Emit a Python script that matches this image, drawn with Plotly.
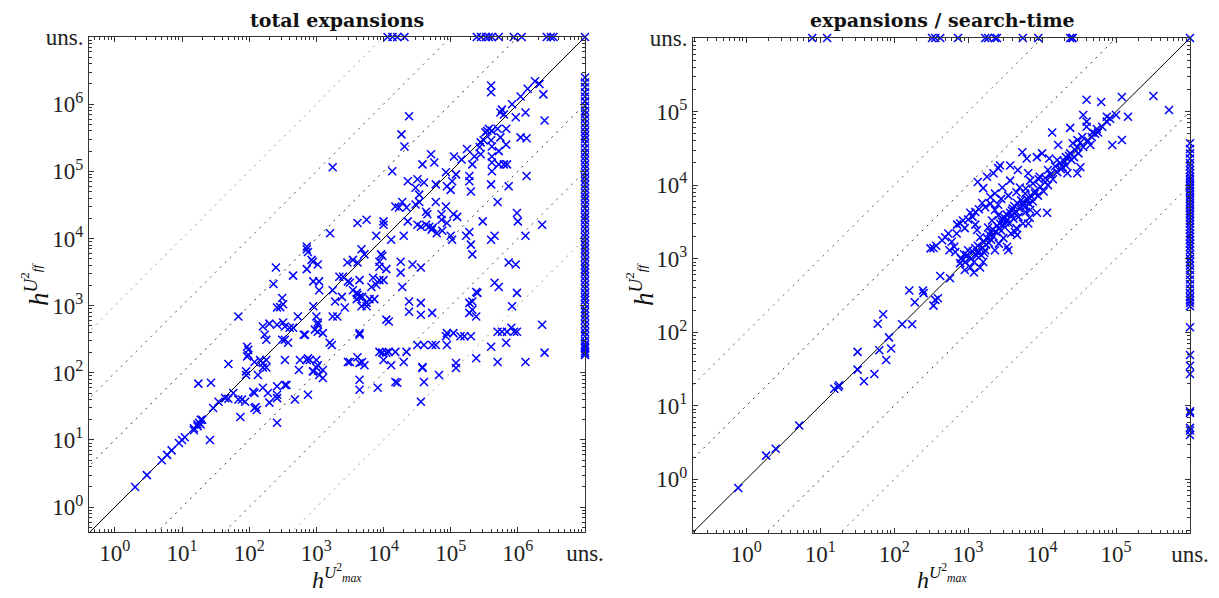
import plotly.graph_objects as go

# ---------------- data ----------------
UNS_LEFT = 1e7     # position of "uns." on the left panel axes
UNS_RIGHT = 1e6    # position of "uns." on the right panel axes

# left panel: total expansions  (x = h^{U2max}, y = h^{U2ff})
left_low_pts = [
    (2, 2), (3, 3), (5, 5), (6, 6), (7, 7), (9, 9), (10, 10), (11, 11), (15, 15),
    (17, 17), (18, 18), (19, 20), (20, 20), (17, 16), (19, 17), (26, 10), (260, 18),
    (15, 14), (17.5, 69), (27, 71), (49, 41), (29, 30), (35, 37), (44, 42), (58, 50),
    (69, 40), (78, 40), (87, 37), (115, 52), (120, 50), (160, 60), (190, 50), (260, 47),
    (260, 63), (340, 66), (360, 66), (480, 40), (750, 47), (120, 30), (130, 28),
    (125, 31), (74, 22), (200, 36), (260, 42),
]
left_mid_pts = [
    (720, 6900), (750, 6300), (850, 4800), (720, 3500), (900, 2300), (250, 3700),
    (450, 2800), (230, 2100), (310, 1300), (260, 940), (290, 950), (320, 1050),
    (900, 980), (69, 690), (1000, 690), (530, 690), (160, 490), (200, 540), (260, 520),
    (320, 560), (340, 490), (400, 470), (450, 470), (650, 370), (170, 370), (180, 310),
    (310, 310), (340, 310), (380, 280), (950, 440), (1050, 520), (93, 245), (97, 220),
    (97, 185), (93, 175), (49, 135), (145, 155), (160, 140), (180, 155), (160, 120),
    (180, 120), (340, 155), (570, 155), (750, 165), (1000, 155), (550, 110), (900, 105),
    (1000, 120), (90, 105), (90, 93), (135, 93), (120, 145),
]
left_c1_pts = [
    (890, 4500), (1050, 4100), (1100, 2300), (1100, 1700), (1050, 560), (1050, 410),
    (1250, 390), (680, 370), (1580, 280), (1700, 260), (720, 155), (800, 155),
    (1050, 130), (1250, 110), (1100, 93), (1250, 84), (890, 105), (2950, 145),
    (3150, 145), (4100, 170), (4400, 140), (4800, 145), (5200, 130), (4400, 79),
    (4400, 56), (8200, 60), (4400, 390), (4400, 370), (8700, 205), (9600, 200),
    (11000, 200), (12000, 205), (15000, 205), (22000, 205), (10000, 155), (13000, 130),
    (20000, 145), (15000, 73), (16000, 71), (38000, 122), (38000, 118), (40000, 73),
    (36000, 37), (32000, 260), (40000, 260), (53000, 260), (60000, 260), (88000, 260),
    (53000, 780), (36000, 730), (24000, 810), (24000, 1150), (36000, 1100), (11000, 620),
    (12000, 580), (19000, 1900), (18000, 3100), (18000, 4500), (27000, 4100),
    (36000, 3700), (67000, 93), (85000, 350), (110000, 390), (88000, 390),
    (140000, 350), (160000, 350), (200000, 350), (120000, 140), (120000, 118),
    (240000, 165), (400000, 245), (500000, 145), (670000, 280), (500000, 410),
    (580000, 410), (690000, 410), (800000, 470), (880000, 410), (970000, 410),
    (1300000, 145), (2300000, 520), (2500000, 200),
]
left_c2_pts = [
    (190000, 1100), (210000, 1150), (190000, 780), (210000, 870), (240000, 690),
    (240000, 1600), (250000, 1550), (450000, 2200), (520000, 1900), (970000, 1550),
    (820000, 980), (730000, 4400), (930000, 4100), (210000, 5800), (200000, 8100),
    (170000, 11000), (190000, 12500), (105000, 9600), (100000, 11000), (75000, 13000),
    (88000, 17000), (110000, 23000), (125000, 21000), (73000, 23000), (73000, 19000),
    (60000, 35000), (85000, 30000), (45000, 23000), (43000, 25000), (32000, 16000),
    (36000, 15000), (43000, 16000), (48000, 15000), (52000, 13500), (54000, 14500),
    (62000, 12000), (20000, 11000), (13000, 9600), (7800, 11000), (10000, 16000),
    (10000, 18000), (5600, 19000), (4100, 17000), (1600, 12000), (720, 7600),
    (15000, 30000), (19000, 35000), (22000, 29000), (23000, 18000), (17000, 29000),
    (30000, 32000), (34000, 35000), (300000, 18000), (500000, 35000), (450000, 11000),
    (400000, 9600), (970000, 24000), (1000000, 18000), (1300000, 11000),
    (2300000, 16000), (9200, 5800), (9600, 5500), (8700, 4500), (8700, 3800),
    (11000, 3500), (8700, 2400), (10000, 2400), (7800, 2050), (6600, 1900),
    (7000, 2600), (6200, 1250), (5600, 1100), (7300, 1250), (2900, 4400),
    (3500, 4800), (4100, 4400), (4700, 6900), (5200, 5800), (2200, 2700),
    (2500, 2700), (2950, 2300), (3150, 2200), (3500, 1700), (4000, 1550),
    (4100, 1450), (4400, 1350), (4000, 1250), (4800, 1350), (4400, 2400),
    (1750, 1700), (2400, 1350), (1900, 1150), (2650, 940), (1750, 690), (2050, 690),
    (4700, 980), (5600, 980),
]
left_high_pts = [
    (1750, 115000), (24000, 660000), (18500, 355000), (20500, 235000), (13500, 100000),
    (23000, 71000), (32000, 76000), (30000, 57000), (34000, 45000), (40000, 68000),
    (51000, 180000), (57000, 135000), (38000, 127000), (60000, 64000), (85000, 97000),
    (88000, 60000), (100000, 53000), (105000, 71000), (120000, 90000),
    (112000, 166000), (145000, 150000), (175000, 215000), (210000, 127000),
    (190000, 85000), (190000, 71000), (200000, 50000), (225000, 166000),
    (270000, 230000), (280000, 270000), (310000, 290000), (330000, 380000),
    (350000, 400000), (370000, 430000), (410000, 400000), (500000, 430000),
    (400000, 290000), (410000, 235000), (550000, 320000), (670000, 430000),
    (520000, 200000), (670000, 250000), (520000, 127000), (620000, 127000),
    (690000, 127000), (410000, 166000), (410000, 135000), (280000, 180000),
    (410000, 100000), (400000, 64000), (730000, 60000), (550000, 750000),
    (620000, 700000), (580000, 830000), (820000, 1000000), (930000, 640000),
    (1100000, 1300000), (1300000, 750000), (1100000, 320000), (1350000, 310000),
    (1400000, 1700000), (1800000, 2200000), (2100000, 2000000), (2400000, 1400000),
    (2500000, 570000), (400000, 1900000), (400000, 1500000), (1350000, 85000),
]
# points whose y is "uns." (top row) and whose x is "uns." (right column)
left_top_x = [11500, 13600, 16000, 20500, 245000, 283000, 335000, 370000, 410000,
              520000, 870000, 1140000, 2700000, 3100000, 3400000, 1e7]
left_uns_col_y = [2500000, 2100000, 1800000, 1500000, 1300000, 1100000, 950000, 800000,
                  700000, 600000, 520000, 450000, 390000, 340000, 300000, 260000,
                  220000, 190000, 165000, 145000, 125000, 110000, 95000, 82000, 72000,
                  63000, 55000, 48000, 42000, 37000, 32000, 28000, 24000, 21000, 18500,
                  16000, 14000, 12000, 10500, 9200, 8000, 7000, 6100, 5300, 4600, 4000,
                  3500, 3100, 2700, 2350, 2050, 1800, 1550, 1350, 1200, 1050, 900, 800,
                  700, 610, 530, 460, 400, 350, 300, 265, 245, 230, 210, 195, 185]

# right panel: expansions / search-time
right_low_pts = [
    (0.78, 0.76), (1.86, 2.1), (2.5, 2.6), (5.2, 5.4), (15.5, 17), (17.5, 18), (18, 19),
    (32, 54), (32, 31), (39, 21.5), (54, 27), (60, 130), (71, 175), (63, 57), (85, 85),
    (91, 60), (78, 42), (128, 128), (175, 128), (160, 370), (190, 255),
]
right_mid_pts = [
    (245, 370), (250, 340), (360, 275), (340, 230), (390, 290), (420, 580), (570, 540),
    (670, 1230), (780, 870), (850, 960), (960, 1120), (1070, 760), (1320, 1230),
    (1450, 760), (1250, 1400), (1500, 1120), (1700, 1300), (310, 1380), (340, 1400),
    (370, 1500), (445, 1780), (490, 1950), (540, 2200), (710, 2900), (780, 3000),
    (850, 3300), (1070, 4200), (1250, 4300), (1550, 5700), (1250, 2900), (1320, 2450),
    (1450, 1950), (1860, 2650), (2000, 2300), (2100, 3300), (2300, 4600), (2550, 3900),
    (2550, 5400), (2850, 3200), (3100, 3600), (3350, 1450), (3500, 1300), (3700, 4200),
    (4000, 4800), (4300, 2300), (4600, 2100), (4600, 5700), (5500, 5900), (5800, 5000),
    (6500, 3000), (6900, 4600), (11700, 4200),
]
right_dense_pts = [
    (800, 1000), (880, 1150), (920, 900), (1000, 1300), (1100, 1000), (1150, 1250),
    (1200, 900), (1300, 1100), (1350, 1500), (1400, 1250), (1550, 1400), (1600, 1700),
    (1650, 1200), (1750, 1550), (1800, 1900), (1900, 1650), (1950, 2100), (2050, 1800),
    (2150, 2500), (2200, 2000), (2400, 2300), (2450, 2800), (2600, 2600), (2700, 3000),
    (2800, 2400), (2900, 3500), (3000, 2800), (3200, 3100), (3300, 4000), (3400, 3400),
    (3600, 3000), (3800, 3800), (3900, 4500), (4100, 3500), (4200, 5200), (4500, 4300),
    (4800, 3700), (5000, 4800), (5200, 6200), (5600, 5300), (6000, 4300), (6200, 6500),
    (6700, 5600), (7200, 7000), (7500, 6000), (8000, 8300), (8800, 7200), (9500, 9500),
    (10500, 8200), (11000, 12500), (12000, 10000), (13000, 14000), (14000, 12000),
    (15000, 18000), (16000, 15000), (17500, 20000), (18000, 16500), (20000, 21000),
    (21000, 18500), (23000, 25000), (25000, 22000), (28000, 30000), (31000, 27000),
    (33000, 38000), (36000, 33000), (42000, 40000), (47000, 45000), (55000, 58000),
    (65000, 62000), (75000, 85000), (600, 1700), (650, 1450), (560, 1300), (700, 2200),
    (900, 2600), (1000, 3400), (1150, 3700), (1400, 4700), (1700, 5000), (2000, 5600),
    (2800, 6500), (3500, 7200), (4500, 8000), (6000, 9000), (7500, 10500), (9000, 12000),
    (900, 700), (1200, 650), (1600, 900), (2300, 1300), (2600, 1600), (3000, 1900),
    (3800, 2200), (4500, 2600), (5500, 3000), (6800, 3600), (8500, 4200),
]
right_high_pts = [
    (13700, 52000), (24000, 60000), (36000, 90000), (40000, 73000), (40000, 145000),
    (63000, 135000), (120000, 158000), (320000, 163000), (520000, 105000),
    (145000, 85000), (100000, 90000), (83000, 80000), (75000, 73000), (57000, 52000),
    (52000, 50000), (48000, 52000), (40000, 62000), (89000, 35000), (120000, 41000),
    (45000, 35000), (35000, 45000), (30000, 41000), (26000, 37000), (30000, 33000),
    (24000, 27000), (27000, 24000), (21000, 24000), (22000, 14500), (16500, 35000),
    (5400, 28000), (10000, 27000), (12500, 23000), (16000, 22000), (19000, 17500),
    (33000, 17500), (30000, 14500), (6200, 23000), (8500, 24000), (3700, 18500),
    (2700, 18500), (2550, 17000), (4700, 16000), (6500, 14500), (12000, 16000),
    (9300, 13000), (11000, 11000), (3700, 11500), (2200, 14500), (1800, 13000),
    (1350, 11000), (1600, 9100), (2000, 6900), (2300, 7700), (2900, 9300),
    (5000, 9300), (5900, 7700), (8000, 7700), (6900, 11500),
]
right_top_x = [7.8, 12.4, 325, 360, 420, 730, 1700, 1860, 2300, 2450, 5500, 8900,
               24000, 25500, 26000, 1e6]
right_uns_col_y = [37000, 31000, 27000, 23000, 20000, 18000, 16000, 14500, 13000, 12000,
                   11000, 10000, 9200, 8400, 7700, 7000, 6400, 5800, 5300, 4800, 4400,
                   4000, 3600, 3300, 3000, 2700, 2450, 2200, 2000, 1800, 1600, 1450,
                   1300, 1150, 1000, 900, 800, 700, 600, 520, 450, 390, 340, 300, 270,
                   250, 225, 117, 49, 35, 27, 8.4, 8.0, 5.0, 4.6, 4.0]

left_ticks = [1, 10, 100, 1e3, 1e4, 1e5, 1e6, UNS_LEFT]
left_ticktext = ["10<sup>0</sup>", "10<sup>1</sup>", "10<sup>2</sup>", "10<sup>3</sup>",
                 "10<sup>4</sup>", "10<sup>5</sup>", "10<sup>6</sup>", "uns."]
right_ticks = [1, 10, 100, 1e3, 1e4, 1e5, UNS_RIGHT]
right_ticktext = ["10<sup>0</sup>", "10<sup>1</sup>", "10<sup>2</sup>", "10<sup>3</sup>",
                  "10<sup>4</sup>", "10<sup>5</sup>", "uns."]

# ---------------- figure ----------------
BLUE = "#0000ff"
FONT = "Liberation Serif"
W, H, OFF = 1219, 598, 8   # page has an 8px body margin


def fx(px):
    return (px - OFF) / W


def fy(py):
    return 1 - (py - OFF) / H


fig = go.Figure()


def minor_vals(lo_exp, hi_exp):
    vals = []
    for e in range(lo_exp, hi_exp):
        for m in range(2, 10):
            vals.append(m * 10.0 ** e)
    return vals


def panel(xa, ya, pts_groups, top_x, col_y, uns, lo, ref_lines):
    lo_v = 10 ** lo
    for k, color in ref_lines:
        fig.add_trace(go.Scatter(
            x=[lo_v / 10, uns * 10], y=[lo_v / 10 * 10 ** k, uns * 10 * 10 ** k],
            mode="lines", line=dict(color=color, width=1, dash="2px,5px"),
            xaxis=xa, yaxis=ya, hoverinfo="skip", showlegend=False))
    fig.add_trace(go.Scatter(
        x=[lo_v / 10, uns], y=[lo_v / 10, uns], mode="lines",
        line=dict(color="black", width=1), xaxis=xa, yaxis=ya,
        hoverinfo="skip", showlegend=False))
    xs, ys = [], []
    for g in pts_groups:
        for px, py in g:
            xs.append(px)
            ys.append(py)
    xs += top_x
    ys += [uns] * len(top_x)
    xs += [uns] * len(col_y)
    ys += col_y
    fig.add_trace(go.Scatter(
        x=xs, y=ys, mode="markers", cliponaxis=False,
        marker=dict(symbol="x-thin-open", size=8, color=BLUE,
                    line=dict(color=BLUE, width=1.5)),
        xaxis=xa, yaxis=ya, showlegend=False))


panel("x", "y", [left_low_pts, left_mid_pts, left_c1_pts, left_c2_pts, left_high_pts],
      left_top_x, left_uns_col_y, UNS_LEFT, -0.385,
      [(1, "#333333"), (2, "#555555"), (3, "#999999"),
       (-1, "#333333"), (-2, "#555555"), (-3, "#999999")])
panel("x2", "y2", [right_low_pts, right_mid_pts, right_dense_pts, right_high_pts],
      right_top_x, right_uns_col_y, UNS_RIGHT, -0.72,
      [(1, "#333333"), (2, "#666666"), (-1, "#333333"), (-2, "#666666")])

tickfont = dict(family=FONT, size=23, color="#222222")


def axis(domain, rng, tv, tt, minor, anchor):
    return dict(type="log", domain=domain, range=rng, anchor=anchor,
                tickmode="array", tickvals=tv, ticktext=tt, tickfont=tickfont,
                ticks="inside", ticklen=5, tickwidth=1, tickcolor="#333333",
                minor=dict(tickmode="array", tickvals=minor, ticks="inside",
                           ticklen=3, tickwidth=1, tickcolor="#333333", showgrid=False),
                showline=True, linecolor="#333333", linewidth=1, mirror="ticks",
                showgrid=False, zeroline=False, automargin=False)


fig.update_layout(
    width=W, height=H, margin=dict(l=0, r=0, t=0, b=0),
    plot_bgcolor="white", paper_bgcolor="white", template="none",
    xaxis=axis([fx(89), fx(585)], [-0.385, 7.0], left_ticks, left_ticktext,
               minor_vals(-1, 7), "y"),
    yaxis=axis([fy(532), fy(37)], [-0.37, 7.0], left_ticks, left_ticktext,
               minor_vals(-1, 7), "x"),
    xaxis2=axis([fx(693), fx(1190)], [-0.72, 6.0], right_ticks, right_ticktext,
                minor_vals(-1, 6), "y2"),
    yaxis2=axis([fy(533), fy(38)], [-0.73, 6.0], right_ticks, right_ticktext,
                minor_vals(-1, 6), "x2"),
)

titles = [("total expansions", 337), ("expansions / search-time", 942)]
for text, xc in titles:
    fig.add_annotation(text="<b>" + text + "</b>", x=fx(xc), y=1.0, xref="paper",
                       yref="paper", showarrow=False, xanchor="center", yanchor="top",
                       borderpad=0,
                       font=dict(family="DejaVu Serif", size=19, color="#111111"))

xlab = "<i>h</i><sup><i>U</i><sup>2</sup><sub><i>max</i></sub></sup>"
ylab = "<i>h</i><sup><i>U</i><sup>2</sup><sub><i>ff</i></sub></sup>"
for xc in (337, 942):
    fig.add_annotation(text=xlab, x=fx(xc), y=fy(577), xref="paper", yref="paper",
                       showarrow=False, xanchor="center", yanchor="middle",
                       borderpad=0,
                       font=dict(family=FONT, size=24, color="#111111"))
for xc in (35, 640):
    fig.add_annotation(text=ylab, x=fx(xc), y=fy(285), xref="paper", yref="paper",
                       showarrow=False, xanchor="center", yanchor="middle", textangle=-90,
                       font=dict(family=FONT, size=27, color="#111111"))

fig.write_html("out.html")
